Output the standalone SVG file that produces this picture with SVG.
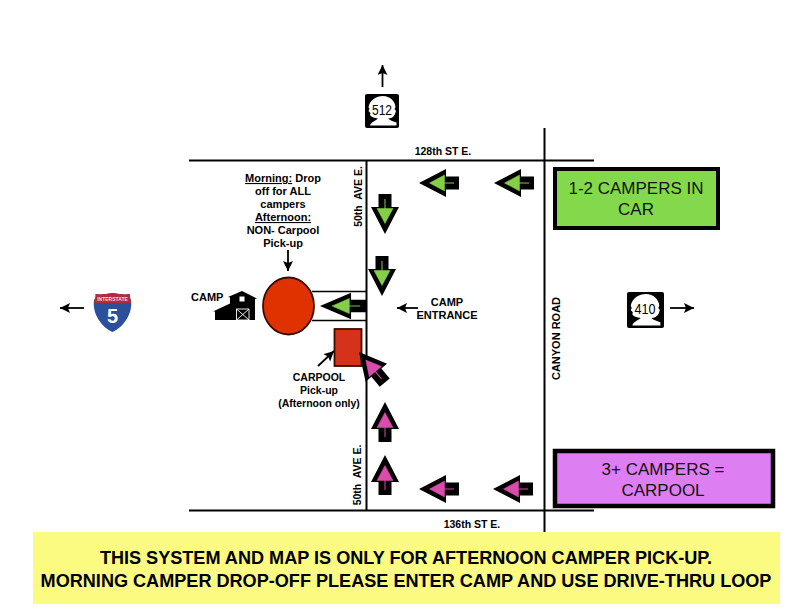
<svg xmlns="http://www.w3.org/2000/svg" width="792" height="612" viewBox="0 0 792 612">
<style>
text{font-family:"Liberation Sans",Arial,sans-serif;fill:#000}
.b{font-weight:bold;font-size:11px}
.s{font-weight:bold;font-size:10.5px}
.m{text-anchor:middle}
.box{font-size:17px;text-anchor:middle;fill:#111}
.ban{font-weight:bold;font-size:18.1px;text-anchor:middle}
.road{stroke:#000;stroke-width:2;fill:none}
.thin{stroke:#000;stroke-width:1.6;fill:none}
.pt{stroke:#000;stroke-width:1.8;fill:none;marker-end:url(#tip)}
.hd{fill:#000}
.g{fill:#84cf48;stroke:#84cf48}
.p{fill:#d84cab;stroke:#d84cab}
.st{font-size:14px;text-anchor:middle}
</style>
<defs>
<marker id="tip" markerUnits="userSpaceOnUse" markerWidth="12" markerHeight="12" refX="10" refY="5" orient="auto"><path d="M0 0L10 5L0 10L2 5Z" fill="#000"/></marker>
<path id="shape" d="M0 0L27 -14V-6.500H40V6.500H27V14Z"/>
<g id="ga"><use href="#shape" class="hd"/><path class="g" stroke-width="0.5" d="M10.500 0L25.500 -8V8Z"/><path class="g" stroke-width="1" d="M20 0H35"/></g>
<g id="pa"><use href="#shape" class="hd"/><path class="p" stroke-width="0.5" d="M10.500 0L25.500 -8V8Z"/><path class="p" stroke-width="1" d="M20 0H35"/></g>
<path id="head" fill="#fff" d="M5 31.500C6 28 11 26.500 13 24.500C9 24 6 23 5 21L5.500 19L3.500 17L4.500 15L3.500 13C5 6 11 2 18 2C25 2 30 7 30.500 13L29.500 15L31 17L30 20C29 23 26 24.500 23 24.500C25 26.500 29 27.500 31.500 28.500V31.500Z"/>
</defs>
<rect width="792" height="612" fill="#fff"/>
<g id="roads">
<path class="road" d="M189 160.500H594"/>
<path class="road" d="M189 510.500H594"/>
<path class="road" d="M366.500 160V510"/>
<path class="road" d="M544.500 128V532"/>
<path class="thin" d="M312 291.500H366M312 320.500H366"/>
</g>
<g id="camp-circle"><ellipse cx="288.500" cy="306" rx="25.500" ry="28.500" fill="#e03200" stroke="#3a0c00" stroke-width="1.800"/></g>
<g id="barn">
<path fill="#000" d="M242 291L257 298.500L255 299V320H215V311.500H213L230 303.500V297.500L228 297Z"/>
<rect x="239.500" y="296.500" width="5" height="5" fill="#fff"/>
<path fill="none" stroke="#fff" stroke-width="0.900" d="M236.500 309H249V320H236.500ZM236.500 309L249 320M249 309L236.500 320"/>
</g>
<g id="carpool-area"><rect x="334.500" y="329" width="27" height="37" fill="#d4321a" stroke="#3a0c00" stroke-width="1.800"/></g>
<g id="connectors">
<path class="pt" d="M288 250V271"/>
<path class="pt" d="M318 366L334 351"/>
<path class="pt" d="M418 308H397"/>
<path class="pt" d="M382.500 87V65"/>
<path class="pt" d="M670 308H694"/>
<path class="pt" d="M84 308H60"/>
<use href="#ga" transform="translate(419 183)"/>
<use href="#ga" transform="translate(494 183)"/>
<use href="#ga" transform="translate(385 234) rotate(-90)"/>
<use href="#ga" transform="translate(382 296) rotate(-90)"/>
<use href="#ga" transform="translate(320 306) scale(1.150 0.950)"/>
<use href="#pa" transform="translate(359 352) rotate(50)"/>
<use href="#pa" transform="translate(385 402) rotate(90)"/>
<use href="#pa" transform="translate(385 455) rotate(90)"/>
<use href="#pa" transform="translate(419 489)"/>
<use href="#pa" transform="translate(493 489)"/>
</g>
<g id="sign-512"><rect x="365" y="94" width="34" height="34" rx="2" fill="#000"/><use href="#head" transform="translate(365 94)"/><text x="382" y="115" class="st" textLength="20" lengthAdjust="spacingAndGlyphs">512</text></g>
<g id="sign-410"><rect x="627" y="292" width="37" height="36" rx="2" fill="#000"/><use href="#head" transform="translate(627 292) scale(1.060)"/><text x="645" y="314" class="st" textLength="21" lengthAdjust="spacingAndGlyphs">410</text></g>
<g id="sign-i5">
<path fill="#2a4f9b" d="M94 300C96 298 96 296 95.500 294C101 295 106 294 112.500 293C119 294 125 295 130 294C129.500 296 130 298 131 300C133 313 124 327 112.500 332C101 327 92 313 94 300Z"/>
<path fill="#b02c3e" d="M94 303C94 300 96 298 95.500 294C101 295 106 294 112.500 293C119 294 125 295 130 294C129.500 298 131 300 131 303Z"/>
<text x="112.500" y="301" font-size="5" font-weight="bold" class="m" style="fill:#f3d8dc">INTERSTATE</text>
<text x="112.500" y="323" font-size="20" font-weight="bold" class="m" style="fill:#fff">5</text>
</g>
<g id="labels">
<text class="s m" x="443" y="155">128th ST E.</text>
<text class="s m" x="472" y="527.500">136th ST E.</text>
<text class="s m" transform="translate(362 196.500) rotate(-90)">50th&#160; AVE E.</text>
<text class="s m" transform="translate(361 475) rotate(-90)">50th&#160; AVE E.</text>
<text class="b m" transform="translate(560 338.500) rotate(-90)">CANYON ROAD</text>
<text class="b" x="191" y="301">CAMP</text>
<text class="b m" x="447" y="306">CAMP</text>
<text class="b m" x="447" y="318.500">ENTRANCE</text>
<text class="b m" x="283" y="182"><tspan text-decoration="underline">Morning:</tspan> Drop</text>
<text class="b m" x="283" y="195">off for ALL</text>
<text class="b m" x="283" y="208">campers</text>
<text class="b m" x="283" y="221" text-decoration="underline">Afternoon:</text>
<text class="b m" x="283" y="234">NON- Carpool</text>
<text class="b m" x="283" y="247">Pick-up</text>
<text class="s m" x="319" y="381">CARPOOL</text>
<text class="s m" x="319" y="394">Pick-up</text>
<text class="s m" x="319" y="407">(Afternoon only)</text>
</g>
<g id="legend-green"><rect x="555" y="169" width="163" height="59" fill="#84d84c" stroke="#000" stroke-width="4"/><text class="box" x="636" y="194">1-2 CAMPERS IN</text><text class="box" x="636" y="215">CAR</text></g>
<g id="legend-purple"><rect x="555" y="451" width="218" height="55" fill="#dd7ff2" stroke="#000" stroke-width="4.500"/><text class="box" x="663" y="475">3+ CAMPERS =</text><text class="box" x="663" y="496">CARPOOL</text></g>
<g id="banner"><rect x="33" y="532" width="747" height="72" fill="#fbfb82"/>
<text class="ban" x="406" y="564">THIS SYSTEM AND MAP IS ONLY FOR AFTERNOON CAMPER PICK-UP.</text>
<text class="ban" x="406" y="587">MORNING CAMPER DROP-OFF PLEASE ENTER CAMP AND USE DRIVE-THRU LOOP</text></g>
</svg>
